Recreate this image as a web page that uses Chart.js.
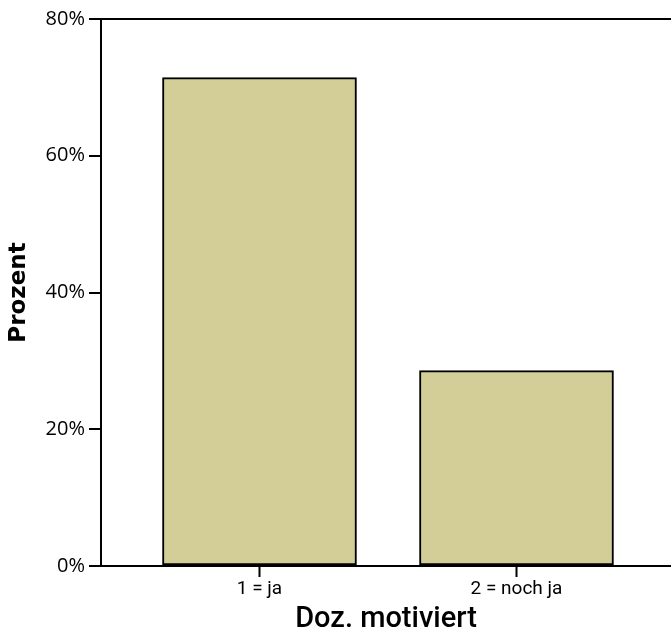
<!DOCTYPE html>
<html>
<head>
<meta charset="utf-8">
<script src="https://cdn.jsdelivr.net/npm/chart.js@4"></script>
<style>
html,body{margin:0;padding:0;background:#fff;overflow:hidden}
#wrap{width:671px;height:638px;position:relative}
</style>
</head>
<body>
<div id="wrap"><canvas id="c" width="671" height="638"></canvas></div>
<script>
const categoryCodes = [1, 2];
const categoryLabels = ["1 = ja", "2 = noch ja"];
const percentValues = [71.43, 28.57];
const yTickValues = [0, 20, 40, 60, 80];

const data = {
  datasets: [{
    data: percentValues.map((v, i) => ({ x: categoryCodes[i], y: v })),
    backgroundColor: '#D3CE98',
    borderColor: '#000',
    borderWidth: 2,
    borderSkipped: false,
    barThickness: 194
  }]
};

new Chart(document.getElementById('c'), {
  type: 'bar',
  data,
  options: {
    responsive: false,
    animation: false,
    layout: { padding: { top: 19, right: 0, bottom: 0, left: 0 } },
    plugins: { legend: { display: false }, tooltip: { enabled: false } },
    scales: {
      x: {
        type: 'linear',
        offset: false,
        min: 0.3833,
        max: 2.6012,
        afterBuildTicks: s => { s.ticks = categoryCodes.map(v => ({ value: v })); },
        afterFit: s => { s.height = 72; },
        grid: { offset: false, drawOnChartArea: false, tickLength: 11, tickColor: '#000', tickWidth: 2 },
        border: { display: true, color: '#000', width: 2, z: 1 },
        ticks: {
          autoSkip: false, maxRotation: 0, padding: 1, color: '#000',
          font: { family: 'Roboto', size: 19 },
          callback: v => categoryLabels[categoryCodes.indexOf(v)] ?? ''
        },
        title: {
          display: true, text: 'Doz. motiviert', color: '#000',
          font: { family: 'Roboto', size: 29, weight: '500' },
          padding: { top: 0, bottom: 1 }
        }
      },
      y: {
        min: 0, max: 80,
        afterBuildTicks: s => { s.ticks = yTickValues.map(v => ({ value: v })); },
        afterFit: s => { s.width = 101; },
        grid: {
          color: c => (c.tick && c.tick.value === 80) ? '#000' : 'rgba(0,0,0,0)',
          lineWidth: 2, tickLength: 12, tickColor: '#000', tickWidth: 2
        },
        border: { display: true, color: '#000', width: 2, z: 1 },
        ticks: {
          padding: 4, color: '#000',
          font: { family: 'Open Sans', size: 20 },
          callback: v => v + '%'
        },
        title: {
          display: true, text: 'Prozent', color: '#000',
          font: { family: 'DejaVu Sans', size: 23, weight: 'bold' },
          padding: { top: 5, bottom: 0 }
        }
      }
    }
  }
});
</script>
</body>
</html>
